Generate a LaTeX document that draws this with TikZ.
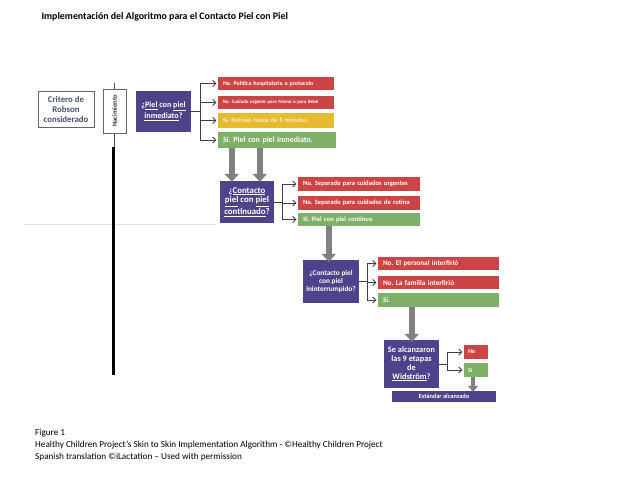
\documentclass[tikz,border=0pt]{standalone}
\usepackage{fontspec}
\setmainfont{Carlito}
\usetikzlibrary{arrows.meta}
\definecolor{purp}{RGB}{80,66,138}
\definecolor{redb}{RGB}{205,68,68}
\definecolor{yelb}{RGB}{232,186,48}
\definecolor{grnb}{RGB}{126,176,104}
\definecolor{slate}{RGB}{72,80,112}
\definecolor{arrg}{RGB}{128,128,128}
\newcommand{\fs}[1]{\fontsize{#1}{#1}\selectfont}
\frenchspacing
\begin{document}
\begin{tikzpicture}[x=1pt,y=-1pt,
  qbox/.style={fill=purp,text=white,font=\bfseries,align=center,inner sep=1pt},
  obox/.style={text=white,font=\bfseries,align=left,inner xsep=5pt,inner ysep=0pt,anchor=center},
  conn/.style={draw=black!75,line width=0.8pt,-{Straight Barb[length=3pt,width=6pt]},shorten >=1.5pt},
  trunk/.style={draw=black!75,line width=0.8pt},
  bigarrow/.style={draw=arrg,line width=6pt,-{Triangle[length=8pt,width=14pt]}},
  smallarrow/.style={draw=arrg,line width=4pt,-{Triangle[length=6pt,width=10pt]}}
]
\useasboundingbox (0,0) rectangle (640,495);
\fill[white] (0,0) rectangle (640,495);

% title
\node[anchor=west,font=\bfseries\fs{9.9}] (title) at (38,17) {Implementación del Algoritmo para el Contacto Piel con Piel};

% faint line
\coordinate (fl1) at (24,224);
\coordinate (fl2) at (216,224);
\draw[black!12,line width=0.8pt] (fl1) -- (fl2);

% Robson
\node[draw=black!60,line width=0.9pt,minimum width=56pt,minimum height=36pt,text=slate,font=\bfseries\fs{8.8},align=center,inner sep=1pt] (rob) at (66,109) {Critero de\\[1.2pt]Robson\\[1.2pt]considerado};

% Nacimiento
\node[draw=black!60,line width=0.9pt,minimum width=23pt,minimum height=44pt,inner sep=0pt] (nac) at (114.5,111) {};
\node[rotate=90,font=\bfseries\fs{6.6},text=black!80] (nact) at (nac.center) {Nacimiento};
\coordinate (ltop) at (114.5,83);
\coordinate (lmid) at (114.5,148);
\coordinate (tk1) at (113.5,147);
\coordinate (tk2) at (113.5,375);
\draw[black!70,line width=0.8pt] (ltop) -- (nac.north);
\draw[black!70,line width=0.8pt] (nac.south) -- (lmid);
\draw[black,line width=2.6pt] (tk1) -- (tk2);

% Level 1
\node[qbox,minimum width=55pt,minimum height=41pt,font=\bfseries\fs{8.1}] (p1) at (163.5,111.5) {¿\underline{Piel} con \underline{piel}\\[1pt]\underline{inmediato}?};
\node[obox,fill=redb,minimum width=116pt,text width=106pt,minimum height=13pt,font=\bfseries\fs{5.9}] (a1) at (276,83.5) {No. Política hospitalaria o protocolo};
\node[obox,fill=redb,minimum width=116pt,text width=106pt,minimum height=13pt,font=\bfseries\fs{4.9}] (a2) at (276,102.5) {No. Cuidado urgente para Mamá o para Bebé};
\node[obox,fill=yelb,minimum width=116pt,text width=106pt,minimum height=15pt,font=\fs{6.6}] (a3) at (276,120.5) {Sí. Retraso hasta de 5 minutos};
\node[obox,fill=grnb,minimum width=118pt,text width=108pt,minimum height=16pt,font=\bfseries\fs{7.9}] (a4) at (277,140) {Sí. Piel con piel inmediato.};
\coordinate (j1) at (200,111.5);
\draw[trunk] (p1.east) -- (j1);
\foreach \b in {a1,a2,a3,a4} \draw[conn] (j1) |- (\b.west);

% Level 2
\node[qbox,minimum width=54pt,minimum height=42pt,font=\bfseries\fs{8.8}] (p2) at (247,202) {¿\underline{Contacto}\\[1pt]\underline{piel} con \underline{piel}\\[1pt]\underline{continuado}?};
\draw[bigarrow] ([xshift=14pt]a4.south west) -- ([xshift=12pt,yshift=-1pt]p2.north west);
\draw[bigarrow] ([xshift=42pt]a4.south west) -- ([xshift=40pt,yshift=-1pt]p2.north west);
\node[obox,fill=redb,minimum width=122pt,text width=112pt,minimum height=14pt,font=\bfseries\fs{6.6}] (b1) at (359,184) {No. Separado para cuidados urgentes};
\node[obox,fill=redb,minimum width=122pt,text width=112pt,minimum height=14pt,font=\bfseries\fs{6.6}] (b2) at (359,203) {No. Separado para cuidados de rutina};
\node[obox,fill=grnb,minimum width=122pt,text width=112pt,minimum height=13pt,font=\bfseries\fs{6.6}] (b3) at (359,219.5) {Sí. Piel con piel continuo};
\coordinate (j2) at (282,202);
\draw[trunk] (p2.east) -- (j2);
\foreach \b in {b1,b2,b3} \draw[conn] (j2) |- (\b.west);

% Level 3
\node[qbox,minimum width=56pt,minimum height=43pt,font=\bfseries\fs{7.3}] (p3) at (331,281.5) {¿Contacto piel\\[1pt]con piel\\[1pt]ininterrumpido?};
\draw[bigarrow] ([xshift=31pt]b3.south west) -- ([xshift=26pt,yshift=-2pt]p3.north west);
\node[obox,fill=redb,minimum width=121pt,text width=111pt,minimum height=13pt,font=\bfseries\fs{7.2}] (c1) at (438.5,263.5) {No. El personal interfirió};
\node[obox,fill=redb,minimum width=121pt,text width=111pt,minimum height=13pt,font=\bfseries\fs{7.2}] (c2) at (438.5,282.5) {No. La familia interfirió};
\node[obox,fill=grnb,minimum width=121pt,text width=111pt,minimum height=14pt,font=\bfseries\fs{7.2}] (c3) at (438.5,300) {Sí.};
\coordinate (j3) at (367,281.5);
\draw[trunk] (p3.east) -- (j3);
\foreach \b in {c1,c2,c3} \draw[conn] (j3) |- (\b.west);

% Level 4
\node[qbox,minimum width=55pt,minimum height=48pt,font=\bfseries\fs{8.3}] (p4) at (411.5,364) {Se alcanzaron\\[0.5pt]las 9 etapas\\[0.5pt]de\\[0.5pt]\underline{Widström}?};
\draw[bigarrow] ([xshift=34pt]c3.south west) -- ([xshift=28pt,yshift=-2pt]p4.north west);
\node[obox,fill=redb,minimum width=24pt,text width=16pt,minimum height=14pt,inner xsep=4pt,font=\bfseries\fs{6}] (no) at (476,352) {No};
\node[obox,fill=grnb,minimum width=24pt,text width=16pt,minimum height=14pt,inner xsep=4pt,font=\bfseries\fs{6}] (si) at (476,370) {Sí};
\coordinate (j4) at (447,364);
\draw[trunk] (p4.east) -- (j4);
\foreach \b in {no,si} \draw[conn] (j4) |- (\b.west);
\node[fill=purp,text=white,font=\bfseries\fs{6.3},minimum width=104pt,minimum height=11pt,inner sep=0pt] (est) at (444,396.5) {Estándar alcanzado};
\draw[smallarrow] ([xshift=-3pt]si.south) -- ([xshift=29pt,yshift=-1pt]est.north);

% caption
\node[anchor=north west,align=left,font=\fs{9.2},inner sep=0pt] (cap) at (35,428.5) {Figure 1\\[3.2pt]Healthy Children Project’s Skin to Skin Implementation Algorithm - ©Healthy Children Project\\[3.2pt]Spanish translation ©iLactation – Used with permission};
\end{tikzpicture}
\end{document}
